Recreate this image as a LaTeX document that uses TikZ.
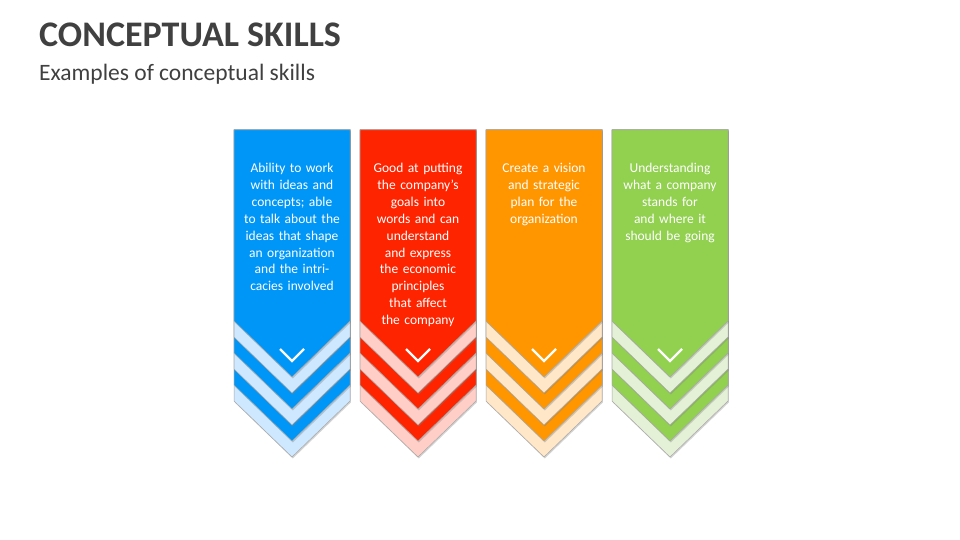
\documentclass[tikz,border=0pt]{standalone}
\usepackage{fontspec}
\setmainfont{Carlito}
\usetikzlibrary{shadows}
\definecolor{cb}{HTML}{0096F8}\definecolor{lb}{HTML}{CDE8FF}
\definecolor{cr}{HTML}{FF2400}\definecolor{lr}{HTML}{FFCFC7}
\definecolor{co}{HTML}{FF9600}\definecolor{lo}{HTML}{FFE7C7}
\definecolor{cg}{HTML}{92D050}\definecolor{lg}{HTML}{E4F1D7}
\definecolor{tg}{HTML}{404040}
\tikzset{layer/.style={fill=#1,draw=black!35,line width=0.5pt,drop shadow={shadow xshift=0.8pt,shadow yshift=-1.5pt,opacity=0.35}},
 body/.style={text=white,align=center,text width=102pt,font=\fontsize{13.5}{16.9}\selectfont,anchor=north,inner sep=0pt},
 vmark/.style={draw=white,line width=2.4pt}}
\newcommand{\mycol}[5]{%
 \foreach \t/\c in {457/#3,441/#2,425/#3,409/#2,393/#3,377/#2}{
   \path[layer=\c] (#1,130) -- (#1+116,130) -- (#1+116,\t-56) -- (#1+58,\t) -- (#1,\t-56) -- cycle;}
 \node[body] (#4) at (#1+58,163) {#5};
 \coordinate (#4v) at (#1+58,361);
 \draw[vmark] ([xshift=-12pt,yshift=12pt]#4v) -- (#4v) -- ([xshift=12pt,yshift=12pt]#4v);
}
\begin{document}
\begin{tikzpicture}[x=1pt,y=-1pt]
\useasboundingbox (0,0) rectangle (960,540);
\node[anchor=west,text=tg,font=\bfseries\fontsize{36}{40}\selectfont,inner sep=0pt] (title) at (39,35) {CONCEPTUAL SKILLS};
\node[anchor=west,text=tg,font=\fontsize{23.5}{26}\selectfont,inner sep=0pt] (sub) at (39,74) {Examples of conceptual skills};
\mycol{234}{cb}{lb}{a}{Ability to work with ideas and concepts; able to talk about the ideas that shape an organization and the intricacies involved}
\mycol{360}{cr}{lr}{b}{Good at putting the company's goals into words and can understand and express the economic principles that affect the company}
\mycol{486}{co}{lo}{c}{Create a vision and strategic plan for the organization}
\mycol{612}{cg}{lg}{d}{Understanding what a company stands for and where it should be going}
\end{tikzpicture}
\end{document}
